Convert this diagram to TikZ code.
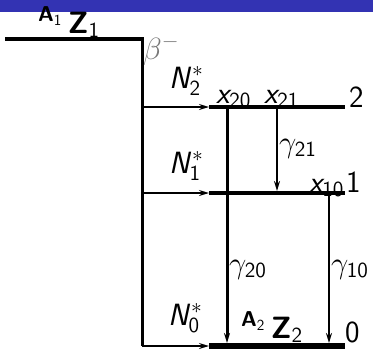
\RequirePackage{fix-cm}
\documentclass[tikz,border=0pt]{standalone}
\usepackage{graphicx}
\usetikzlibrary{arrows.meta}
\DeclareMathAlphabet{\mathsfsl}{OT1}{cmss}{m}{sl}
\DeclareMathAlphabet{\mathsfup}{OT1}{cmss}{m}{n}
\DeclareMathAlphabet{\mathsfbf}{OT1}{cmss}{bx}{n}
\definecolor{beamerblue}{RGB}{51,51,179}
\definecolor{betagray}{RGB}{120,120,120}
\newcommand{\sfn}[1]{\mathsfup{#1}}
\newcommand{\bigtxt}[1]{\scalebox{1.28}{#1}}
\begin{document}
\begin{tikzpicture}[x=1pt,y=-1pt,
  lvl/.style={line width=4pt},
  gnd/.style={line width=6pt},
  feed/.style={line width=3pt},
  arr/.style={line width=1.5pt,-{Stealth[length=10pt,width=6pt]}},
  trans/.style={line width=2pt,-{Stealth[length=10pt,width=6pt]}},
  lab/.style={font=\fontsize{24}{28}\selectfont, inner sep=0pt}]
\useasboundingbox (0,0) rectangle (373,349);
\fill[beamerblue] (0,0) rectangle (373,12);
% coordinates
\coordinate (z1L) at (5,39);
\coordinate (z1R) at (142,39);
\coordinate (b2) at (142,107);
\coordinate (b1) at (142,193);
\coordinate (b0) at (142,346);
\coordinate (l2L) at (209,107);
\coordinate (l2R) at (345,107);
\coordinate (l1L) at (209,193);
\coordinate (l1R) at (345,193);
\coordinate (l0L) at (209,346);
\coordinate (l0R) at (345,346);
\coordinate (t20a) at (227,107);
\coordinate (t20b) at (227,343);
\coordinate (t21a) at (277,107);
\coordinate (t21b) at (277,191);
\coordinate (t10a) at (329,193);
\coordinate (t10b) at (329,343);
% parent level and feed
\draw[lvl] (z1L) -- ([xshift=1.5pt]z1R);
\draw[feed] (z1R) -- (b0);
\draw[arr] (b2) -- (l2L);
\draw[arr] (b1) -- (l1L);
\draw[arr] (b0) -- (l0L);
% levels
\draw[lvl] (l2L) -- (l2R);
\draw[lvl] (l1L) -- (l1R);
\draw[gnd] (l0L) -- (l0R);
% transitions
\draw[trans,line width=3pt] (t20a) -- (t20b);
\draw[trans] (t21a) -- (t21b);
\draw[trans] (t10a) -- (t10b);
% labels
\node[lab, anchor=base west] (nz1) at (38,33) {\bigtxt{$^{\mathsfbf{A}_{\sfn{1}}}\,\mathsfbf{Z}_{\sfn{1}}$}};
\node[lab, anchor=base west, text=betagray] (nbeta) at (143,59) {\bigtxt{$\beta^-$}};
\node[lab, anchor=base west] (nn2) at (169,88) {\bigtxt{$\mathsfsl{N}^*_{\sfn{2}}$}};
\node[lab, anchor=base west] (nn1) at (169,173) {\bigtxt{$\mathsfsl{N}^*_{\sfn{1}}$}};
\node[lab, anchor=base west] (nn0) at (168,325) {\bigtxt{$\mathsfsl{N}^*_{\sfn{0}}$}};
\node[lab, anchor=base west] (nx20) at (216,103) {\bigtxt{$\mathsfsl{x}_{\sfn{20}}$}};
\node[lab, anchor=base west] (nx21) at (264,103) {\bigtxt{$\mathsfsl{x}_{\sfn{21}}$}};
\node[lab, anchor=base west] (nx10) at (309,192) {\bigtxt{$\mathsfsl{x}_{\sfn{10}}$}};
\node[lab, anchor=base west] (n2) at (349,107) {\bigtxt{$\sfn{2}$}};
\node[lab, anchor=base west] (n1) at (346,192) {\bigtxt{$\sfn{1}$}};
\node[lab, anchor=base west] (n0) at (345,342) {\bigtxt{$\sfn{0}$}};
\node[lab, anchor=base west] (g21) at (279,152) {\bigtxt{$\gamma_{\sfn{21}}$}};
\node[lab, anchor=base west] (g20) at (229,273) {\bigtxt{$\gamma_{\sfn{20}}$}};
\node[lab, anchor=base west] (g10) at (331,273) {\bigtxt{$\gamma_{\sfn{10}}$}};
\node[lab, anchor=base west] (nz2) at (241,338) {\bigtxt{$^{\mathsfbf{A}_{\sfn{2}}}\,\mathsfbf{Z}_{\sfn{2}}$}};
\end{tikzpicture}
\end{document}
